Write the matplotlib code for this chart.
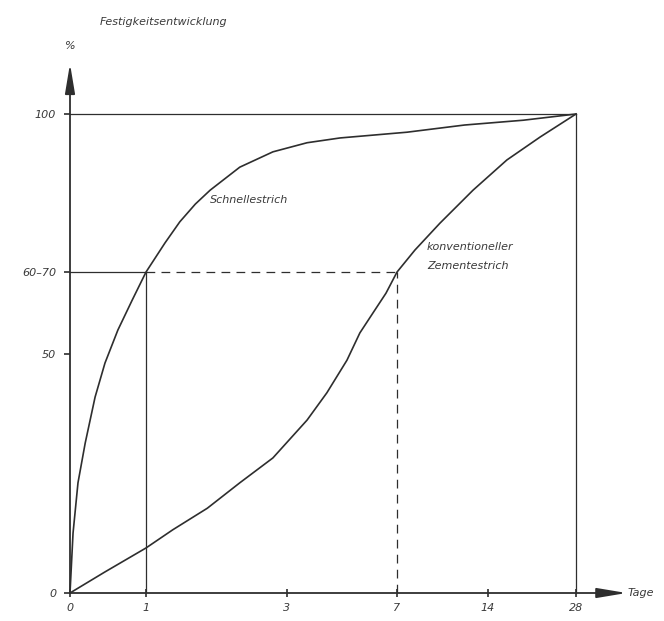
import numpy as np
import matplotlib
matplotlib.use("Agg")
import matplotlib.pyplot as plt

# data (days, % strength)
tage = [0, 1, 3, 7, 14, 28]
tage_labels = ["0", "1", "3", "7", "14", "28"]
y_ticks = [0, 50, 67, 100]
y_labels = ["0", "50", "60–70", "100"]

schnell_t = [0, 0.04, 0.105, 0.20, 0.33, 0.46, 0.63, 0.82, 1.0, 1.27, 1.48,
             1.70, 1.91, 2.33, 2.80, 3.73, 4.93, 7.77, 12.2, 19.6, 28]
schnell_p = [0, 12.5, 23.0, 31.3, 40.9, 48.0, 54.9, 61.2, 67, 73.1, 77.5,
             81.2, 84.1, 88.9, 92.1, 94.0, 95.0, 96.2, 97.7, 98.7, 100]

zement_t = [0, 0.46, 1.0, 1.38, 1.87, 2.33, 2.80, 3.73, 4.45, 5.18, 5.65,
            6.13, 6.6, 7, 8.38, 10.3, 12.85, 17.0, 22.3, 28]
zement_p = [0, 4.4, 9.4, 13.2, 17.7, 23.0, 28.2, 36.1, 41.8, 48.6, 54.3,
            58.5, 62.6, 67, 71.6, 77.2, 84.1, 90.4, 95.2, 100]

# the day axis in the drawing is not uniform; map tick days to drawn spacing
tick_pos = [0, 76, 217, 327, 418, 506]


def fwd(x):
    return np.interp(x, tage, tick_pos)


def inv(x):
    return np.interp(x, tick_pos, tage)


ink = "#2e2e2e"
txt = dict(color="#3a3a3a", fontstyle="italic", fontsize=8)

W, H = 664, 621
fig = plt.figure(figsize=(W / 100, H / 100), dpi=100)
ax = fig.add_axes([70 / W, 1 - 593 / H, (576 - 70) / W, (593 - 114) / H])
ax.set_xscale("function", functions=(fwd, inv))
ax.set_xlim(0, 28)
ax.set_ylim(0, 100)
for s in ax.spines.values():
    s.set_visible(False)

# axes with arrows
arrow = dict(arrowstyle="-|>,head_length=1.8,head_width=0.3",
             color=ink, lw=1.3, shrinkA=0, shrinkB=0)
ax.annotate("", xy=(1.10, 0), xytext=(0, 0), xycoords="axes fraction",
            arrowprops=arrow)
ax.annotate("", xy=(0, 1.105), xytext=(0, 0), xycoords="axes fraction",
            arrowprops=arrow)

# frame lines
ax.plot([0, 28], [100, 100], color=ink, lw=0.9, clip_on=False)
ax.plot([28, 28], [0, 100], color=ink, lw=0.9, clip_on=False)

# guide lines at 60-70 %
ax.plot([0, 1], [67, 67], color=ink, lw=0.9)
ax.plot([1, 1], [0, 67], color=ink, lw=0.9)
ax.plot([1, 7], [67, 67], color=ink, lw=0.9, dashes=(7, 5))
ax.plot([7, 7], [0, 67], color=ink, lw=0.9, dashes=(7, 5))

# curves
ax.plot(schnell_t, schnell_p, color=ink, lw=1.2, clip_on=False,
        solid_joinstyle="round")
ax.plot(zement_t, zement_p, color=ink, lw=1.2, clip_on=False,
        solid_joinstyle="round")

# ticks
ax.set_xticks(tage)
ax.set_xticklabels(tage_labels, **txt)
ax.set_yticks(y_ticks)
ax.set_yticklabels(y_labels, **txt)
ax.tick_params(axis="x", direction="inout", length=6, width=1.2, color=ink, pad=4)
ax.tick_params(axis="y", direction="out", length=4, width=1.2, color=ink, pad=6)
ax.minorticks_off()

# texts
fig.text(100 / W, 1 - 22 / H, "Festigkeitsentwicklung", ha="left", va="center", **txt)
fig.text(70 / W, 1 - 46 / H, "%", ha="center", va="center", **txt)
fig.text(628 / W, 1 - 593 / H, "Tage", ha="left", va="center", **txt)
fig.text(210 / W, 1 - 200 / H, "Schnellestrich", ha="left", va="center", **txt)
fig.text(427 / W, 1 - 247 / H, "konventioneller", ha="left", va="center", **txt)
fig.text(427 / W, 1 - 266 / H, "Zementestrich", ha="left", va="center", **txt)

fig.savefig("out.png", dpi=100, facecolor="white")
